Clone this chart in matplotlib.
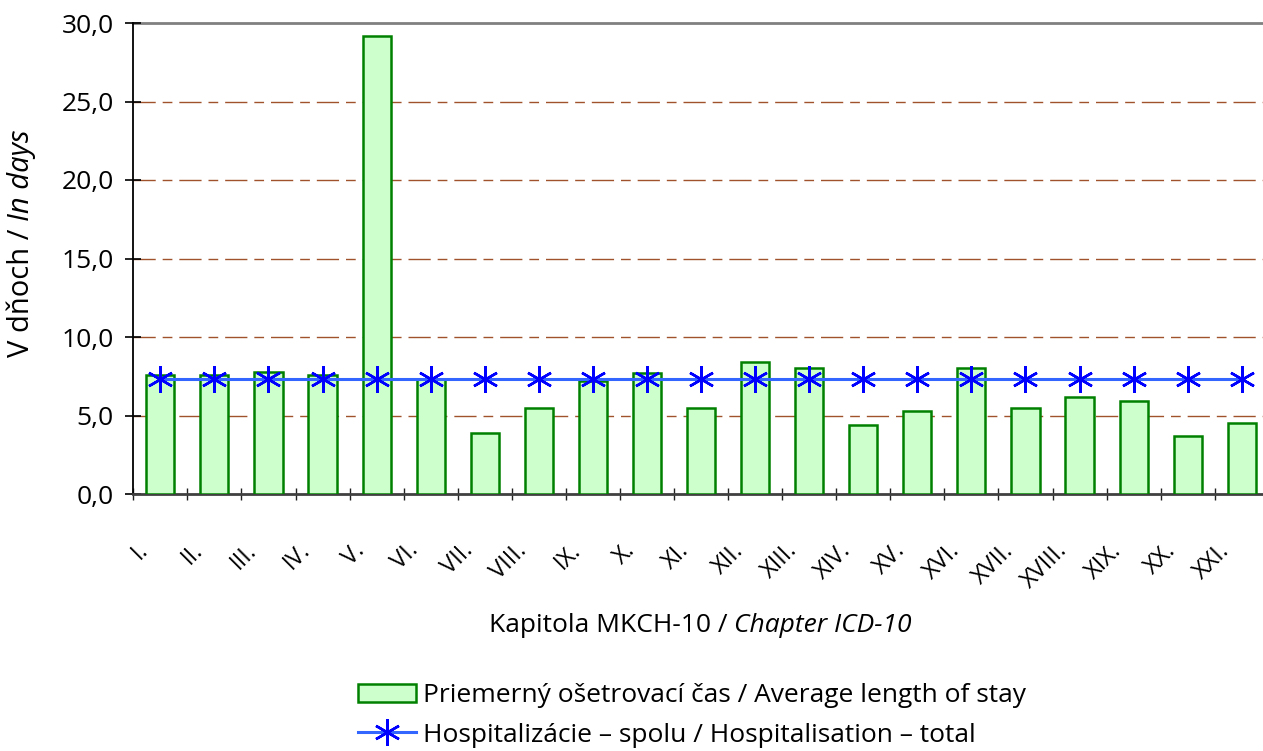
import matplotlib
matplotlib.use("Agg")
import matplotlib.pyplot as plt
import numpy as np
from matplotlib.ticker import FixedLocator, FuncFormatter
from matplotlib.transforms import ScaledTranslation

plt.rcParams['font.family'] = ['Open Sans', 'DejaVu Sans']

categories = ["I.", "II.", "III.", "IV.", "V.", "VI.", "VII.", "VIII.", "IX.", "X.", "XI.",
              "XII.", "XIII.", "XIV.", "XV.", "XVI.", "XVII.", "XVIII.", "XIX.", "XX.", "XXI."]
avg_stay = [7.6, 7.6, 7.75, 7.6, 29.2, 7.35, 3.9, 5.5, 7.2, 7.7, 5.45,
            8.4, 8.0, 4.4, 5.3, 8.0, 5.5, 6.2, 5.9, 3.7, 4.5]
total = [7.3] * len(categories)
yticks = [0, 5, 10, 15, 20, 25, 30]

W, H = 1263, 751
fig = plt.figure(figsize=(W / 100, H / 100), dpi=100)
left, right, top, bottom = 133.3, 1268.8, 23, 494
ax = fig.add_axes([left / W, 1 - bottom / H, (right - left) / W, (bottom - top) / H])

x = np.arange(len(categories))
bars = ax.bar(x, avg_stay, width=0.52, color='#CCFFCC', edgecolor='#008000', linewidth=1.8,
              zorder=3, label='Priemerný ošetrovací čas / Average length of stay')
line, = ax.plot(x, total, color='#3366FF', linewidth=2.2, marker=(6, 2, 0), markersize=19,
                markeredgecolor='#0000FF', markeredgewidth=1.8, zorder=4,
                label='Hospitalizácie – spolu / Hospitalisation – total')

ax.set_xlim(-0.5, len(categories) - 0.5)
ax.set_ylim(0, 30)

for yv in yticks[1:-1]:
    ax.axhline(yv, color='#A0522D', linewidth=1.0, dashes=(16, 5, 7, 5), zorder=1)
ax.axhline(30, color='#808080', linewidth=2.0, zorder=1, clip_on=False)

for s in ['right', 'top']:
    ax.spines[s].set_visible(False)
ax.spines['left'].set_color('black')
ax.spines['left'].set_linewidth(1.3)
ax.spines['bottom'].set_color('#404040')
ax.spines['bottom'].set_linewidth(2.0)

ax.set_yticks(yticks)
ax.yaxis.set_major_formatter(FuncFormatter(lambda v, p: f"{v:.1f}".replace('.', ',')))
ax.tick_params(axis='y', direction='inout', length=12, width=1.2, labelsize=19, pad=8)

ax.set_xticks(x)
ax.set_xticklabels(categories, rotation=45, ha='right', va='top', fontsize=17)
ax.tick_params(axis='x', which='major', length=0, pad=32)
offset = ScaledTranslation(-7 / 100, 0, fig.dpi_scale_trans)
for lbl in ax.get_xticklabels():
    lbl.set_transform(lbl.get_transform() + offset)
ax.xaxis.set_minor_locator(FixedLocator(np.arange(-0.5, len(categories), 1.0)))
ax.tick_params(axis='x', which='minor', direction='inout', length=9, width=1.0, color='#202020')

# x label with italic part
fig.canvas.draw()
r = fig.canvas.get_renderer()
t1 = fig.text(0, 1 - 625 / H, "Kapitola MKCH-10 / ", fontsize=19, va='center', ha='left')
t2 = fig.text(0, 1 - 625 / H, "Chapter ICD-10", fontsize=19, va='center', ha='left', style='italic')
w1 = t1.get_window_extent(r).width
w2 = t2.get_window_extent(r).width
x0 = 700 - (w1 + w2) / 2
t1.set_x(x0 / W)
t2.set_x((x0 + w1) / W)

# y label with italic part
yl1 = fig.text(22 / W, 0, "V dňoch / ", fontsize=21, rotation=90, va='bottom', ha='center')
yl2 = fig.text(22 / W, 0, "In days", fontsize=21, rotation=90, va='bottom', ha='center', style='italic')
h1 = yl1.get_window_extent(r).height
h2 = yl2.get_window_extent(r).height
yc = H - 243
y0 = yc - (h1 + h2) / 2
yl1.set_y(y0 / H)
yl2.set_y((y0 + h1) / H)

fig.legend([bars, line], [bars.get_label(), line.get_label()],
           loc='upper left', bbox_to_anchor=(358 / W, 1 - 683 / H), frameon=False,
           fontsize=19, handlelength=2.2, handletextpad=0.25, labelspacing=0.55,
           borderaxespad=0, borderpad=0, handleheight=0.7)

fig.savefig('out.png', dpi=100)
